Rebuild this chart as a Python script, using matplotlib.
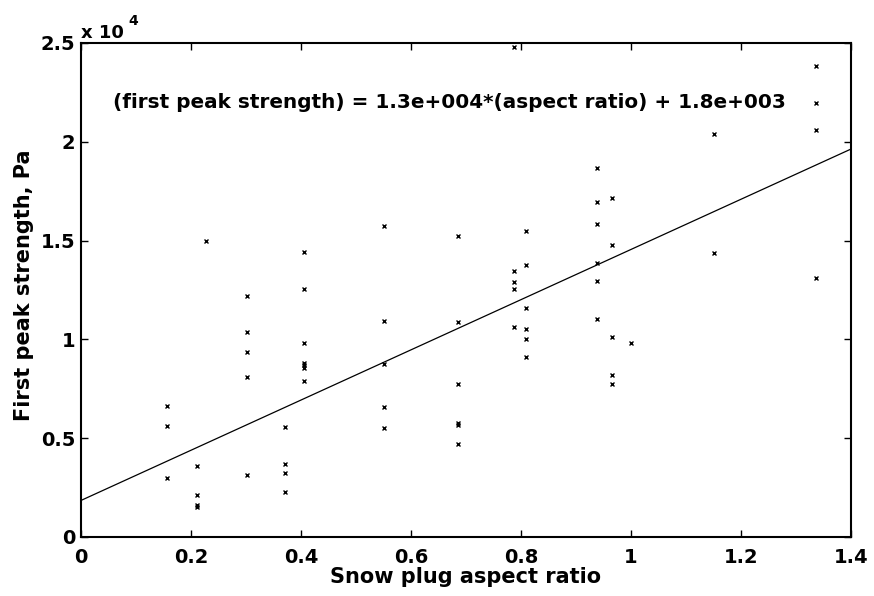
"""
First peak strength vs snow plug aspect ratio, with linear fit
"""
import matplotlib
matplotlib.use('Agg')
import matplotlib.pyplot as plt
from matplotlib.ticker import FuncFormatter
import numpy as np

plt.rcParams['font.family'] = ['DejaVu Sans']
plt.rcParams['font.weight'] = 'bold'

# measured points (aspect ratio, first peak strength in Pa)
aspect_ratio = [
    0.156, 0.156, 0.156,
    0.211, 0.211, 0.211, 0.211, 0.227,
    0.301, 0.301, 0.301, 0.301, 0.301,
    0.370, 0.370, 0.370, 0.370,
    0.406, 0.406, 0.406, 0.406, 0.406, 0.406, 0.406,
    0.551, 0.551, 0.551, 0.551, 0.551,
    0.686, 0.686, 0.686, 0.686, 0.686, 0.686,
    0.788, 0.788, 0.788, 0.788, 0.788,
    0.809, 0.809, 0.809, 0.809, 0.809, 0.809,
    0.938, 0.938, 0.938, 0.938, 0.938, 0.938,
    0.965, 0.965, 0.965, 0.965, 0.965, 1.000,
    1.151, 1.151,
    1.336, 1.336, 1.336, 1.336,
]
peak_strength = [
    6630, 5620, 3000,
    3590, 2130, 1620, 1500, 15000,
    12200, 10390, 9380, 8110, 3120,
    5580, 3690, 3220, 2290,
    14410, 12570, 9800, 8820, 8700, 8540, 7900,
    15740, 10930, 8740, 6560, 5500,
    15250, 10870, 7730, 5750, 5650, 4700,
    24800, 13460, 12890, 12570, 10640,
    15490, 13770, 11570, 10510, 10020, 9090,
    18660, 16940, 15840, 13850, 12960, 11030,
    17140, 14780, 10110, 8200, 7730, 9800,
    20380, 14360,
    23850, 21950, 20600, 13090,
]

# linear fit as drawn
fit_slope = 1.27e4
fit_intercept = 1.85e3

x_ticks = [0, 0.2, 0.4, 0.6, 0.8, 1.0, 1.2, 1.4]
y_ticks = [0, 5000, 10000, 15000, 20000, 25000]

fig = plt.figure(figsize=(8.74, 5.96), dpi=100)
ax = fig.add_axes([0.0927, 0.099, 0.881, 0.829])

ax.plot(aspect_ratio, peak_strength, 'x', color='black', markersize=3, mew=1)

x_fit = np.array([0, 1.4])
ax.plot(x_fit, fit_slope * x_fit + fit_intercept, color='black', linewidth=0.9)

ax.set_xlim(0, 1.4)
ax.set_ylim(0, 25000)
ax.set_xticks(x_ticks)
ax.set_yticks(y_ticks)
ax.xaxis.set_major_formatter(FuncFormatter(lambda v, p: '%g' % v))
ax.yaxis.set_major_formatter(FuncFormatter(lambda v, p: '%g' % (v / 1e4)))
ax.tick_params(direction='in', top=True, right=True, length=5, width=1,
               labelsize=14)
ax.tick_params(axis='x', pad=8)
ax.tick_params(axis='y', pad=4)
for s in ax.spines.values():
    s.set_linewidth(1.5)

ax.set_xlabel('Snow plug aspect ratio', fontsize=15, fontweight='bold', labelpad=0)
ax.set_ylabel('First peak strength, Pa', fontsize=15, fontweight='bold')
ax.yaxis.set_label_coords(-0.061, 0.51)

# exponent label, MATLAB style
ax.text(0.0, 1.010, 'x 10', transform=ax.transAxes, fontsize=13,
        fontweight='bold', ha='left', va='baseline')
ax.text(0.061, 1.036, '4', transform=ax.transAxes, fontsize=10,
        fontweight='bold', ha='left', va='baseline')

ax.text(0.0416, 0.879,
        '(first peak strength) = 1.3e+004*(aspect ratio) + 1.8e+003',
        transform=ax.transAxes, fontsize=14.4, fontweight='bold',
        ha='left', va='center')

plt.savefig('out.png', dpi=100)
